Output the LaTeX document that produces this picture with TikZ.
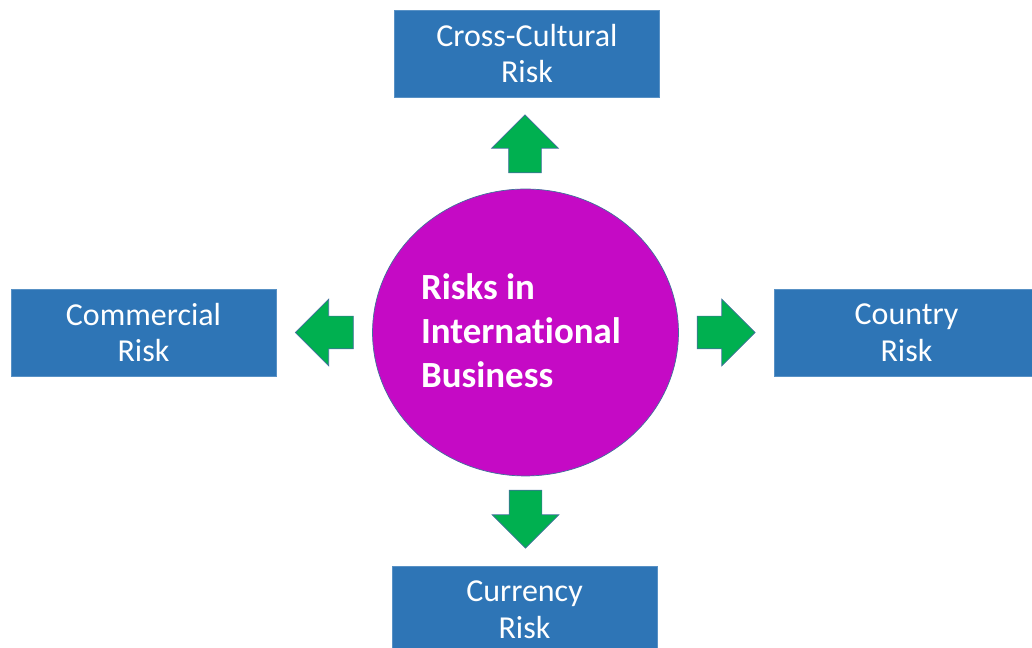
\documentclass[tikz,border=0pt]{standalone}
\usepackage{fontspec}
\setmainfont{Carlito}[Ligatures=NoCommon]
\usetikzlibrary{shapes.geometric, shapes.arrows}

\definecolor{boxblue}{RGB}{46,117,182}
\definecolor{edgeblue}{RGB}{65,113,156}
\definecolor{hubmagenta}{RGB}{197,10,197}
\definecolor{arrowgreen}{RGB}{0,176,80}

\begin{document}
\begin{tikzpicture}[x=0.02cm, y=0.02cm]
    % Styles
    \tikzstyle{riskbox} = [rectangle, draw=boxblue!80!white, fill=boxblue, minimum width=5.3cm, minimum height=1.74cm, align=center, text=white, font=\fontsize{18.2}{21}\selectfont]
    \tikzstyle{hub} = [ellipse, draw=edgeblue, fill=hubmagenta, minimum width=6.12cm, minimum height=5.74cm, inner sep=0pt]
    \tikzstyle{blockarrow} = [single arrow, draw=edgeblue, fill=arrowgreen, minimum height=1.16cm, inner sep=0.32cm, single arrow head extend=0.34cm]

    \useasboundingbox (0,0) rectangle (1032,648);
    \begin{scope}
    \clip (0,0) rectangle (1032,648);

    % Centre
    \node[hub] (R) at (525.5,315.5) {};
    \node[align=left, text=white, font=\bfseries\fontsize{21}{25}\selectfont] (Rt) at (521,317) {Risks in\\International\\Business};

    % Boxes
    \node[riskbox] (C1) at (527,594.5) {Cross-Cultural\\Risk};
    \node[riskbox] (C2) at (143.5,315.5) {Commercial\\Risk};
    \node[riskbox] (C3) at (906.5,315.5) {Country\\Risk};
    \node[riskbox] (C4) at (524.5,38.5) {Currency\\Risk};

    % Arrows
    \node[blockarrow, shape border rotate=90] (A1) at (525,496) {};
    \node[blockarrow, shape border rotate=180] (A2) at (332.5,315.5) {};
    \node[blockarrow] (A3) at (718,315.5) {};
    \node[blockarrow, shape border rotate=270] (A4) at (525.5,137) {};
    \end{scope}
\end{tikzpicture}
\end{document}
